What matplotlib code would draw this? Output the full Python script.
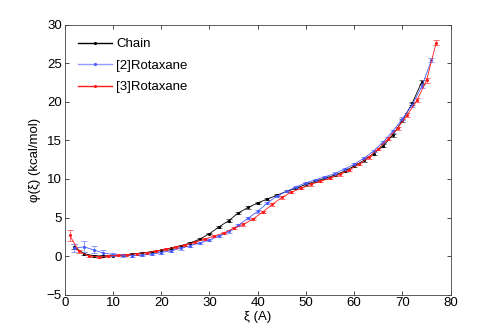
import numpy as np
import matplotlib
matplotlib.use('Agg')
import matplotlib.pyplot as plt
from matplotlib.lines import Line2D

plt.rcParams.update({"font.family": ["Liberation Sans", "DejaVu Sans"], "font.size": 9.5})

# Chain
xi_chain = [2, 4, 6, 8, 10, 12, 14, 16, 18, 20, 22, 24, 26, 28, 30, 32, 34, 36, 38,
            40, 42, 44, 46, 48, 50, 52, 54, 56, 58, 60, 62, 64, 66, 68, 70, 72, 74]
phi_chain = [1.2, 0.3, 0.05, 0.0, 0.05, 0.1, 0.25, 0.4, 0.55, 0.75, 1.0, 1.3, 1.7, 2.2,
             2.9, 3.8, 4.6, 5.6, 6.3, 6.9, 7.4, 7.9, 8.4, 8.8, 9.3, 9.7, 10.1, 10.5,
             11.0, 11.7, 12.4, 13.3, 14.3, 15.7, 17.6, 19.8, 22.6]
err_chain = [0.3, 0.2, 0.15, 0.1, 0.1, 0.1, 0.1, 0.1, 0.1, 0.1, 0.1, 0.1, 0.1, 0.1,
             0.1, 0.1, 0.15, 0.15, 0.15, 0.15, 0.15, 0.15, 0.15, 0.15, 0.15, 0.15, 0.15,
             0.15, 0.15, 0.15, 0.15, 0.15, 0.2, 0.2, 0.2, 0.25, 0.3]

# [2]Rotaxane
xi_rot2 = [2, 4, 6, 8, 10, 12, 14, 16, 18, 20, 22, 24, 26, 28, 30, 32, 34, 36, 38,
           40, 42, 44, 46, 48, 50, 52, 54, 56, 58, 60, 62, 64, 66, 68, 70, 72, 74, 76]
phi_rot2 = [1.0, 1.2, 0.8, 0.4, 0.2, 0.1, 0.05, 0.1, 0.25, 0.45, 0.7, 1.0, 1.35, 1.7,
            2.1, 2.6, 3.2, 4.0, 4.9, 5.8, 6.9, 7.8, 8.4, 9.0, 9.5, 9.9, 10.3, 10.7,
            11.3, 11.9, 12.7, 13.6, 14.8, 16.2, 17.8, 19.6, 22.0, 25.4]
err_rot2 = [0.5, 0.7, 0.45, 0.35, 0.25, 0.2, 0.15, 0.15, 0.15, 0.15, 0.15, 0.15, 0.15,
            0.15, 0.15, 0.15, 0.15, 0.15, 0.15, 0.15, 0.15, 0.15, 0.15, 0.15, 0.15, 0.15,
            0.15, 0.15, 0.15, 0.15, 0.15, 0.15, 0.15, 0.2, 0.2, 0.2, 0.25, 0.25]

# [3]Rotaxane
xi_rot3 = [1, 3, 5, 7, 9, 11, 13, 15, 17, 19, 21, 23, 25, 27, 29, 31, 33, 35, 37, 39,
           41, 43, 45, 47, 49, 51, 53, 55, 57, 59, 61, 63, 65, 67, 69, 71, 73, 75, 77]
phi_rot3 = [2.7, 0.6, 0.0, -0.1, 0.0, 0.1, 0.2, 0.3, 0.45, 0.65, 0.9, 1.15, 1.45, 1.8,
            2.2, 2.6, 3.0, 3.6, 4.1, 4.8, 5.7, 6.7, 7.6, 8.3, 8.8, 9.3, 9.7, 10.1,
            10.6, 11.2, 11.9, 12.8, 13.9, 15.2, 16.6, 18.3, 20.2, 22.8, 27.7]
err_rot3 = [0.7, 0.25, 0.15, 0.1, 0.1, 0.1, 0.1, 0.1, 0.1, 0.1, 0.1, 0.1, 0.1, 0.1,
            0.1, 0.1, 0.15, 0.15, 0.15, 0.15, 0.15, 0.15, 0.15, 0.15, 0.15, 0.15, 0.15,
            0.15, 0.15, 0.15, 0.15, 0.15, 0.15, 0.2, 0.2, 0.2, 0.25, 0.3, 0.35]

series = [
    ("Chain", xi_chain, phi_chain, err_chain, "black", "#666666"),
    ("[2]Rotaxane", xi_rot2, phi_rot2, err_rot2, "#4a5cff", "#8f9cff"),
    ("[3]Rotaxane", xi_rot3, phi_rot3, err_rot3, "#ff1a1a", "#ff6f6f"),
]

fig = plt.figure(figsize=(4.98, 3.31), dpi=100)
ax = fig.add_axes([0.13, 0.11, 0.775, 0.815])

handles = []
for label, x, y, e, col, ecol in series:
    ax.errorbar(x, y, yerr=e, color=col, ecolor=ecol, elinewidth=0.7, capsize=2.5,
                capthick=0.7, lw=0.6, marker='.', markersize=2.5)
    handles.append(Line2D([], [], color=ecol if label == "[2]Rotaxane" else col,
                          lw=1.0, marker='.', markersize=2.5, markerfacecolor=col,
                          markeredgecolor=col))

ax.set_xlim(0, 80)
ax.set_ylim(-5, 30)
ax.set_xticks(np.arange(0, 81, 10))
ax.set_yticks(np.arange(-5, 31, 5))
ax.tick_params(direction='in', top=True, right=True, length=3, width=0.5, pad=2)
for s in ax.spines.values():
    s.set_linewidth(0.6)
    s.set_color('#444444')

ax.set_xlabel("ξ (A)", labelpad=1)
ax.set_ylabel("φ(ξ) (kcal/mol)", labelpad=4)

ax.legend(handles, [s[0] for s in series], loc='upper left', frameon=False,
          handlelength=2.6, handletextpad=0.3, labelspacing=0.7,
          borderaxespad=0.6, fontsize=9.5)

fig.savefig("out.png", dpi=100)
